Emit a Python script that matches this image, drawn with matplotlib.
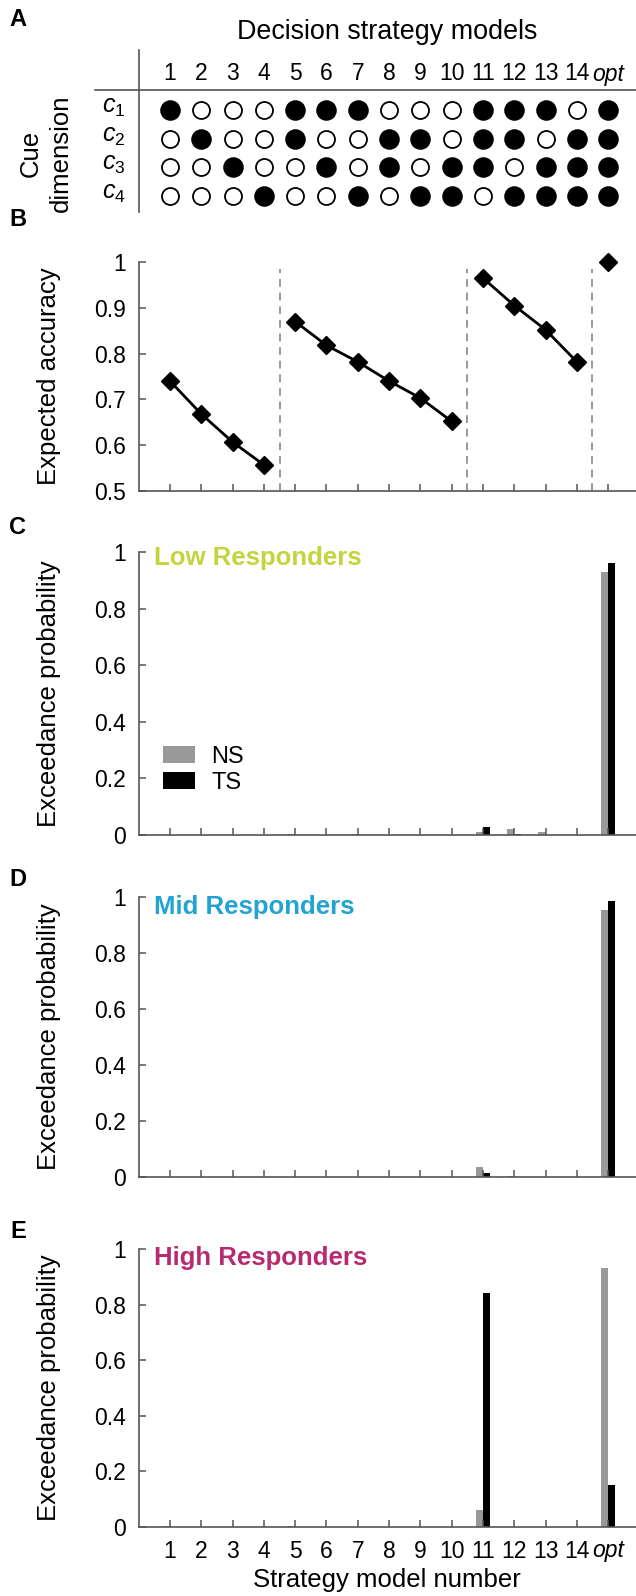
import matplotlib
matplotlib.use("Agg")
import matplotlib.pyplot as plt
import numpy as np

plt.rcParams['font.family'] = ['Liberation Sans', 'DejaVu Sans']
plt.rcParams['mathtext.fontset'] = 'custom'
plt.rcParams['mathtext.it'] = 'Liberation Sans:italic'
plt.rcParams['mathtext.rm'] = 'Liberation Sans'

# ---------------- data ----------------
models = ['1', '2', '3', '4', '5', '6', '7', '8', '9', '10', '11', '12', '13', '14', 'opt']
cues = ['$c_{\\mathit{1}}$', '$c_{\\mathit{2}}$', '$c_{\\mathit{3}}$', '$c_{\\mathit{4}}$']
cue_matrix = [
    [1, 0, 0, 0, 1, 1, 1, 0, 0, 0, 1, 1, 1, 0, 1],
    [0, 1, 0, 0, 1, 0, 0, 1, 1, 0, 1, 1, 0, 1, 1],
    [0, 0, 1, 0, 0, 1, 0, 1, 0, 1, 1, 0, 1, 1, 1],
    [0, 0, 0, 1, 0, 0, 1, 0, 1, 1, 0, 1, 1, 1, 1],
]
acc_groups = [[1, 2, 3, 4], [5, 6, 7, 8, 9, 10], [11, 12, 13, 14], [15]]
expected_accuracy = [0.74, 0.668, 0.607, 0.557,
                     0.870, 0.818, 0.782, 0.740, 0.703, 0.652,
                     0.965, 0.905, 0.852, 0.782,
                     1.0]
group_separators = [4.5, 10.5, 14.5]

low_ns = [0, 0, 0, 0, 0.005, 0, 0.003, 0, 0, 0, 0.010, 0.020, 0.010, 0, 0.930]
low_ts = [0, 0, 0, 0, 0, 0, 0, 0, 0, 0, 0.030, 0.005, 0, 0, 0.960]
mid_ns = [0, 0, 0, 0, 0, 0, 0, 0, 0, 0, 0.035, 0.003, 0, 0, 0.955]
mid_ts = [0, 0, 0, 0, 0, 0, 0, 0, 0, 0, 0.015, 0, 0, 0, 0.985]
high_ns = [0.003, 0, 0, 0, 0.005, 0, 0, 0, 0, 0, 0.060, 0, 0, 0, 0.930]
high_ts = [0, 0, 0, 0, 0, 0, 0, 0, 0, 0, 0.840, 0, 0, 0, 0.150]

groups = ['Low Responders', 'Mid Responders', 'High Responders']
group_colors = ['#c4d43c', '#22a3d2', '#b72a72']
series_labels = ['NS', 'TS']
series_colors = ['#999999', '#000000']

# ---------------- layout helpers ----------------
W, H = 636, 1596
fig = plt.figure(figsize=(W / 100, H / 100), dpi=100)

def px_axes(left, top, right, bottom):
    return fig.add_axes([left / W, 1 - bottom / H, (right - left) / W, (bottom - top) / H])

AX_L, AX_R = 138.7, 636
XLIM = (0.0, 15.89)
x = np.arange(1, len(models) + 1)
SPINE = '#555555'
TICK_FS = 16.5
LAB_FS = 18.5

def style_axes(ax):
    for s in ['top', 'right']:
        ax.spines[s].set_visible(False)
    for s in ['left', 'bottom']:
        ax.spines[s].set_color(SPINE)
        ax.spines[s].set_linewidth(1.2)
    ax.tick_params(direction='in', length=5, width=1.1, color=SPINE,
                   labelsize=TICK_FS, pad=9)
    ax.tick_params(axis='x', pad=9)
    ax.set_xlim(*XLIM)
    ax.set_xticks(x)

# ---------------- Panel A ----------------
axA = px_axes(AX_L, 0, AX_R, 230)
axA.set_xlim(*XLIM)
axA.set_ylim(230, 0)
axA.axis('off')
row_y = [110, 139, 167, 196]
for r, row in enumerate(cue_matrix):
    row = np.array(row)
    filled = x[row == 1]
    empty = x[row == 0]
    axA.scatter(filled, [row_y[r]] * len(filled), s=185, c='black',
                edgecolors='black', linewidths=1.2, zorder=3)
    axA.scatter(empty, [row_y[r]] * len(empty), s=150, facecolors='white',
                edgecolors='black', linewidths=1.3, zorder=3)
    axA.text(-0.8, row_y[r] - 3, cues[r], ha='center', va='center', fontsize=18)
for xi, m in zip(x, models):
    axA.text(xi, 74, m, ha='center', va='center', fontsize=TICK_FS,
             style='italic' if m == 'opt' else 'normal')
axA.text(7.95, 32, 'Decision strategy models', ha='center', va='center', fontsize=19.4)
axA.plot([-1.4, XLIM[1]], [90, 90], color=SPINE, lw=1.2, clip_on=False)
axA.plot([0.0, 0.0], [50, 212], color=SPINE, lw=1.2, clip_on=False)
fig.text(31 / W, 1 - 153 / H, 'Cue', rotation=90, ha='center', va='center', fontsize=LAB_FS)
fig.text(61 / W, 1 - 153 / H, 'dimension', rotation=90, ha='center', va='center', fontsize=LAB_FS)

# ---------------- Panel B ----------------
axB = px_axes(AX_L, 262, AX_R, 491)
style_axes(axB)
axB.set_ylim(0.5, 1.0)
axB.set_yticks([0.5, 0.6, 0.7, 0.8, 0.9, 1.0])
axB.set_yticklabels(['0.5', '0.6', '0.7', '0.8', '0.9', '1'])
axB.set_xticklabels([])
acc = np.array(expected_accuracy)
for g in acc_groups:
    gi = np.array(g)
    axB.plot(gi, acc[gi - 1], color='black', lw=2, marker='D', markersize=9,
             clip_on=False, zorder=3)
for sx in group_separators:
    axB.plot([sx, sx], [0.5, 0.985], color='#999999', lw=1.4, ls=(0, (4, 3)), zorder=1)
axB.set_ylabel('Expected accuracy', fontsize=LAB_FS)
axB.yaxis.set_label_coords((61 - AX_L) / (AX_R - AX_L), 0.5)

# ---------------- Panels C, D, E ----------------
panel_boxes = [(552, 835), (897, 1177), (1249, 1527)]
ns_data = [low_ns, mid_ns, high_ns]
ts_data = [low_ts, mid_ts, high_ts]
title_offsets = [6, 10, 9]
bw = 0.23
bar_axes = []
for i, (top, bot) in enumerate(panel_boxes):
    ax = px_axes(AX_L, top, AX_R, bot)
    style_axes(ax)
    ax.set_ylim(0, 1)
    ax.set_yticks([0, 0.2, 0.4, 0.6, 0.8, 1.0])
    ax.set_yticklabels(['0', '0.2', '0.4', '0.6', '0.8', '1'])
    ax.bar(x - bw, ns_data[i], width=bw, align='edge', color=series_colors[0],
           label=series_labels[0])
    ax.bar(x, ts_data[i], width=bw, align='edge', color=series_colors[1],
           label=series_labels[1])
    ax.text(0.5, 1 - title_offsets[i] / (bot - top), groups[i], color=group_colors[i],
            fontsize=18.5, fontweight='bold', ha='left', va='center')
    ax.set_ylabel('Exceedance probability', fontsize=LAB_FS)
    ax.yaxis.set_label_coords((61 - AX_L) / (AX_R - AX_L), 0.5)
    if i < 2:
        ax.set_xticklabels([])
    else:
        ax.set_xticklabels(models)
        for lab in ax.get_xticklabels():
            if lab.get_text() == 'opt':
                lab.set_style('italic')
        ax.set_xlabel('Strategy model number', fontsize=LAB_FS)
        ax.xaxis.set_label_coords(0.5, -(1580 - bot) / (bot - top))
        ax.xaxis.label.set_verticalalignment('center')
    bar_axes.append(ax)

ctop, cbot = panel_boxes[0]
bar_axes[0].legend(loc='upper left',
                   bbox_to_anchor=((163 - AX_L) / (AX_R - AX_L), (cbot - 746) / (cbot - ctop)),
                   frameon=False, fontsize=17, handlelength=1.35, handleheight=0.7,
                   handletextpad=0.7, labelspacing=0.15, borderpad=0, borderaxespad=0)

# panel letters
for letter, yy in zip('ABCDE', [19, 219, 528, 879, 1232]):
    fig.text(18 / W, 1 - yy / H, letter, fontsize=17, fontweight='bold', ha='center', va='center')

fig.savefig('out.png', dpi=100)
